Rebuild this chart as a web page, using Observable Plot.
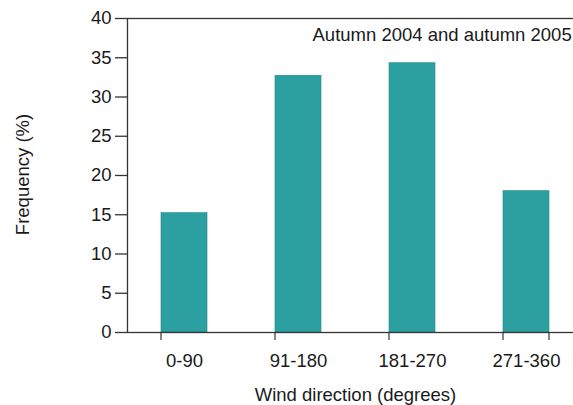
<!DOCTYPE html>
<html>
<head>
<meta charset="utf-8">
<script src="https://cdn.jsdelivr.net/npm/d3@7"></script>
<script src="https://cdn.jsdelivr.net/npm/@observablehq/plot@0.6"></script>
<style>
  html, body { margin: 0; padding: 0; background: #fff; overflow: hidden; }
  #chart svg { display: block; }
</style>
</head>
<body>
<div id="chart"></div>
<script>
const categories = ["0-90", "91-180", "181-270", "271-360"];
const frequencies = [15.2, 32.7, 34.3, 18.0];
const yTicks = [0, 5, 10, 15, 20, 25, 30, 35, 40];
const xTitle = "Wind direction (degrees)";
const yTitle = "Frequency (%)";
const note = "Autumn 2004 and autumn 2005";

const data = categories.map((c, i) => ({direction: c, frequency: frequencies[i]}));
const FONT = "'Liberation Sans', Arial, Helvetica, sans-serif";
const INK = "#1a1a1a";
const FS = 18.5;

// boundary tick marks below the x axis, at the left edge of each band (through the x scale)
function bandBoundaryTicks(index, scales, values, dims) {
  const g = d3.create("svg:g");
  const y0 = dims.height - dims.marginBottom;
  const xs = categories.map(c => scales.x(c));
  xs.push(scales.x(categories[categories.length - 1]) + scales.x.bandwidth());
  for (const x of xs) {
    g.append("line").attr("x1", x).attr("x2", x).attr("y1", y0).attr("y2", y0 + 8)
      .attr("stroke", "#333").attr("stroke-width", 1.2);
  }
  return g.node();
}

const chart = Plot.plot({
  width: 573,
  height: 405,
  marginLeft: 127,
  marginTop: 18,
  marginBottom: 73,
  marginRight: -10,
  style: {fontFamily: FONT, fontSize: FS + "px", color: INK, background: "white", overflow: "visible"},
  x: {domain: categories, paddingInner: 0.6, paddingOuter: 0.3, align: 0.5, label: null},
  y: {domain: [0, 40], ticks: yTicks, label: null},
  marks: [
    Plot.barY(data, {x: "direction", y: "frequency", fill: "#2ca0a1", stroke: "#1f8587", strokeWidth: 0.6}),
    Plot.frame({stroke: "#333", strokeWidth: 1.3}),
    Plot.axisY({ticks: yTicks, tickSize: 12, tickPadding: 4, stroke: "#333", strokeWidth: 1.3, label: null, fill: INK, fontSize: FS}),
    Plot.axisX({tickSize: 0, tickPadding: 21, label: null, fill: INK, fontSize: FS}),
    bandBoundaryTicks,
    Plot.text([xTitle], {text: d => d, frameAnchor: "bottom", textAnchor: "middle", dy: 68, fill: INK, fontSize: FS}),
    Plot.text([yTitle], {text: d => d, frameAnchor: "left", textAnchor: "middle", rotate: -90, dx: -104, dy: -1, fill: INK, fontSize: FS}),
    Plot.text([note], {text: d => d, frameAnchor: "top-left", textAnchor: "start", lineAnchor: "top", dx: 185, dy: 9, fill: INK, fontSize: FS})
  ]
});
chart.style.maxWidth = "none";
document.getElementById("chart").append(chart);
</script>
</body>
</html>
